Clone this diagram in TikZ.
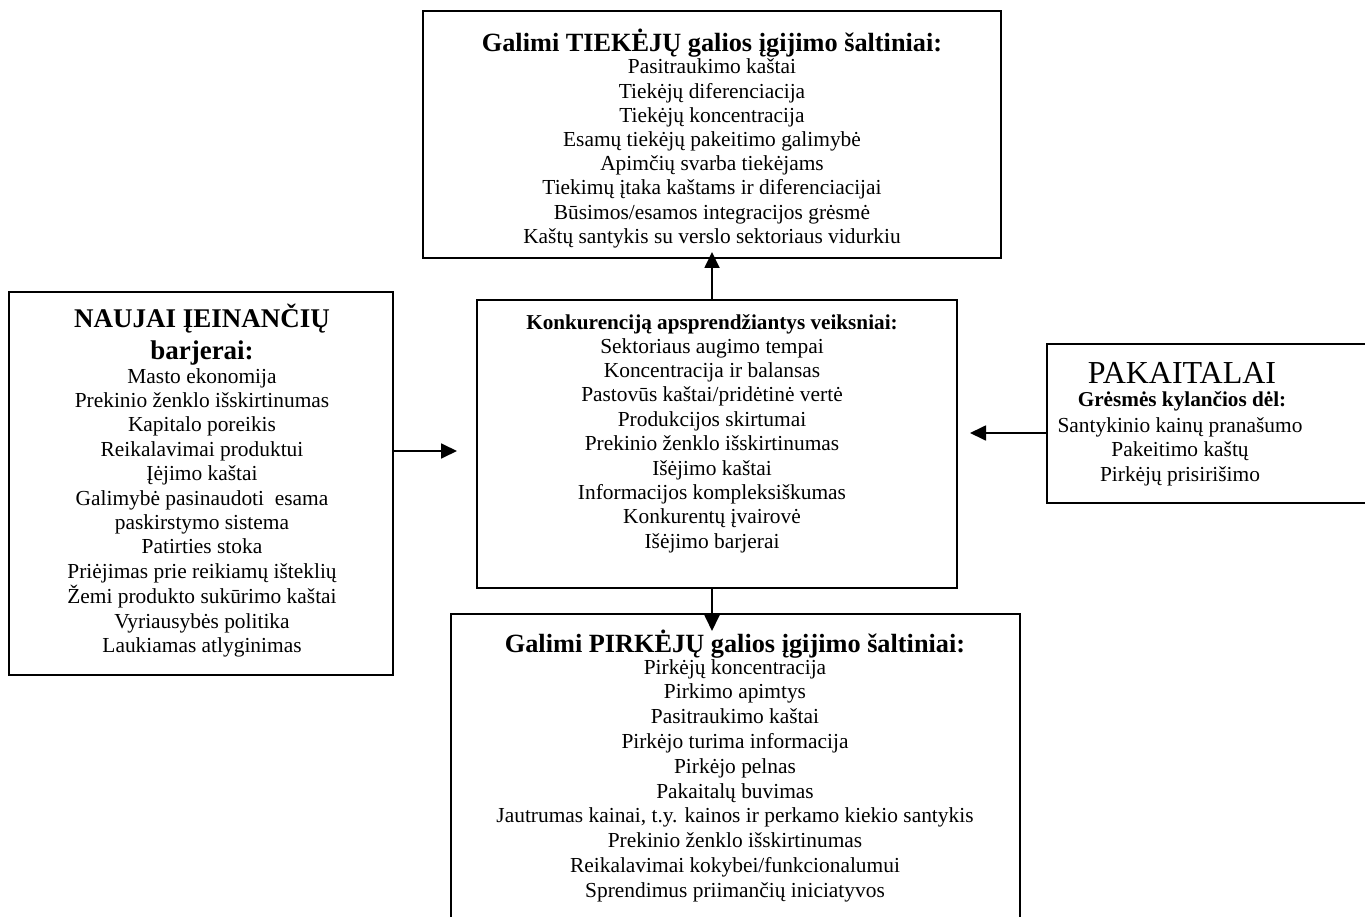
\documentclass[tikz,border=0pt]{standalone}
\usepackage{fontspec}
\setmainfont{Liberation Serif}
\usetikzlibrary{arrows.meta}
\begin{document}
\begin{tikzpicture}[x=1pt,y=-1pt,
  box/.style={draw, line width=1.6pt, anchor=north west, inner sep=0pt, outer sep=0pt},
  body/.style={anchor=base, inner sep=0pt, font=\fontsize{21.4}{#1}\selectfont},
  body/.default=24.4,
  ttl/.style={anchor=base, inner sep=0pt, font=\fontsize{#1}{#1}\selectfont\bfseries},
  ttl/.default=26.3,
  arr/.style={line width=1.8pt, -{Triangle[length=16pt,width=15pt]}}]
\useasboundingbox (0,0) rectangle (1365,917);

% frames
\node[box, minimum width=578pt, minimum height=247pt] (sup) at (423,11) {};
\node[box, minimum width=480pt, minimum height=288pt] (mid) at (477,300) {};
\node[box, minimum width=384pt, minimum height=383pt] (new) at (9,292) {};
\node[box, minimum width=340pt, minimum height=159pt] (sub) at (1047,344) {};
\node[box, minimum width=569pt, minimum height=330pt] (buy) at (451,614) {};

% suppliers
\node[ttl] (supT) at (712,52) {Galimi TIEKĖJŲ galios įgijimo šaltiniai:};
\node[body=24.2] (supL) at (712,74) {\begin{tabular}[t]{@{}c@{}}
Pasitraukimo kaštai\\
Tiekėjų diferenciacija\\
Tiekėjų koncentracija\\
Esamų tiekėjų pakeitimo galimybė\\
Apimčių svarba tiekėjams\\
Tiekimų įtaka kaštams ir diferenciacijai\\
Būsimos/esamos integracijos grėsmė\\
Kaštų santykis su verslo sektoriaus vidurkiu
\end{tabular}};

% rivalry
\node[ttl=21.2] (midT) at (712,329) {Konkurenciją apsprendžiantys veiksniai:};
\node[body] (midL) at (712,353) {\begin{tabular}[t]{@{}c@{}}
Sektoriaus augimo tempai\\
Koncentracija ir balansas\\
Pastovūs kaštai/pridėtinė vertė\\
Produkcijos skirtumai\\
Prekinio ženklo išskirtinumas\\
Išėjimo kaštai\\
Informacijos kompleksiškumas\\
Konkurentų įvairovė\\
Išėjimo barjerai
\end{tabular}};

% new entrants
\node[ttl=27] (newT1) at (202,327) {NAUJAI ĮEINANČIŲ};
\node[ttl=27] (newT2) at (202,359) {barjerai:};
\node[body] (newL) at (202,383) {\begin{tabular}[t]{@{}c@{}}
Masto ekonomija\\
Prekinio ženklo išskirtinumas\\
Kapitalo poreikis\\
Reikalavimai produktui\\
Įėjimo kaštai\\
Galimybė pasinaudoti~ esama\\
paskirstymo sistema\\
Patirties stoka\\
Priėjimas prie reikiamų išteklių\\
Žemi produkto sukūrimo kaštai\\
Vyriausybės politika\\
Laukiamas atlyginimas
\end{tabular}};

% substitutes
\node[anchor=base, inner sep=0pt, font=\fontsize{32}{32}\selectfont] (subT) at (1182,383) {PAKAITALAI};
\node[ttl=21.2] (subS) at (1182,406) {Grėsmės kylančios dėl:};
\node[body=24.8] (subL) at (1180,432) {\begin{tabular}[t]{@{}c@{}}
Santykinio kainų pranašumo\\
Pakeitimo kaštų\\
Pirkėjų prisirišimo
\end{tabular}};

% buyers
\node[ttl] (buyT) at (735,652) {Galimi PIRKĖJŲ galios įgijimo šaltiniai:};
\node[body=24.8] (buyL) at (735,674) {\begin{tabular}[t]{@{}c@{}}
Pirkėjų koncentracija\\
Pirkimo apimtys\\
Pasitraukimo kaštai\\
Pirkėjo turima informacija\\
Pirkėjo pelnas\\
Pakaitalų buvimas\\
Jautrumas kainai, t.y. kainos ir perkamo kiekio santykis\\
Prekinio ženklo išskirtinumas\\
Reikalavimai kokybei/funkcionalumui\\
Sprendimus priimančių iniciatyvos
\end{tabular}};

% connectors
\draw[arr, shorten >=-6pt] (mid.north -| sup.south) -- (sup.south);
\draw[arr, shorten >=-17pt] (mid.south -| sup.south) -- (buy.north -| sup.south);
\draw[arr, shorten >=20pt] (new.east |- {(0,451)}) -- (mid.west |- {(0,451)});
\draw[arr, shorten >=13pt] (sub.west |- {(0,433)}) -- (mid.east |- {(0,433)});
\end{tikzpicture}
\end{document}
